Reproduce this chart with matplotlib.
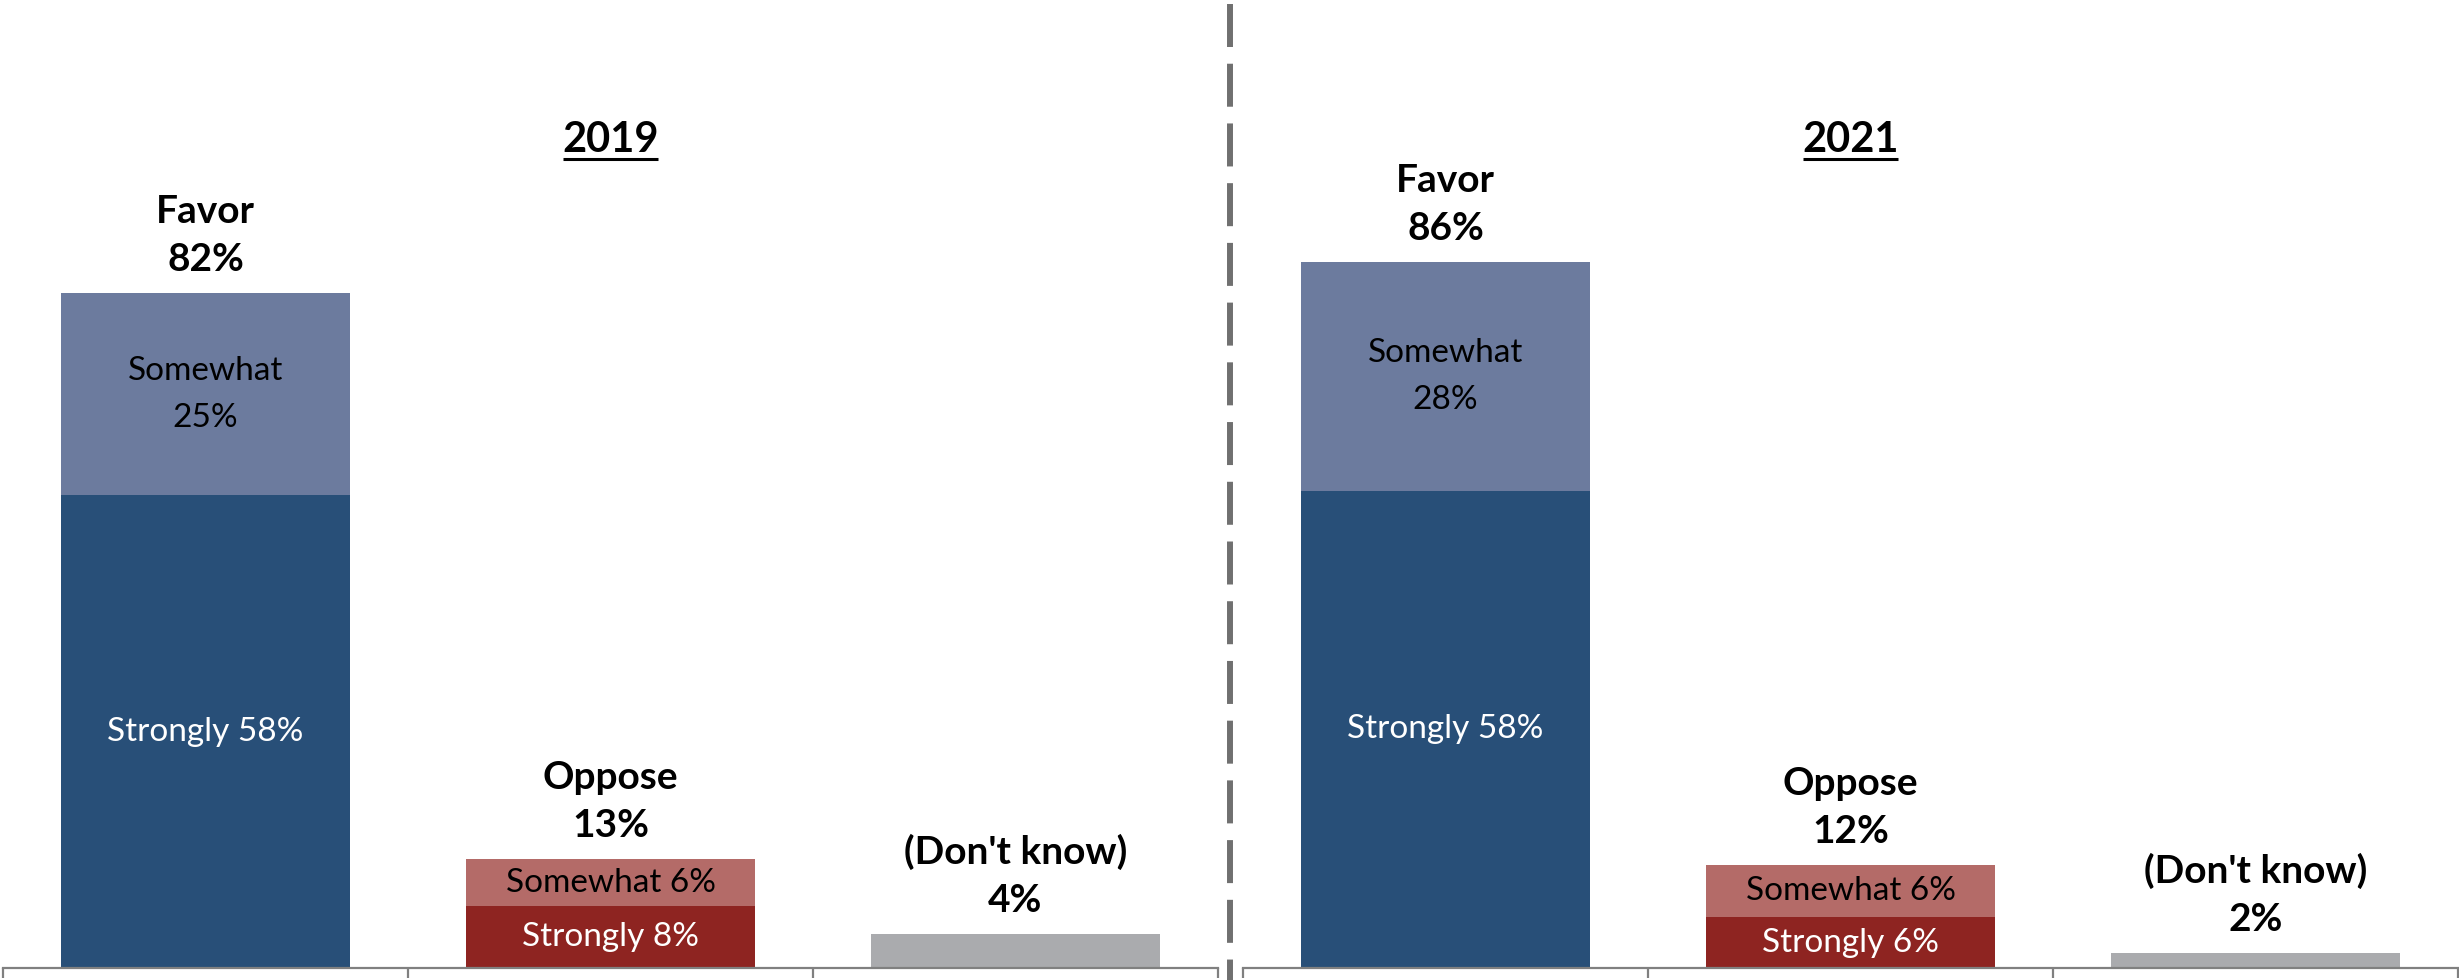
import matplotlib
matplotlib.use("Agg")
import matplotlib.pyplot as plt
from matplotlib.lines import Line2D

plt.rcParams['font.family'] = ['Lato', 'DejaVu Sans']

# ------------------------
# Data
# ------------------------
years = ['2019', '2021']
categories = ['Favor', 'Oppose', "(Don't know)"]

fav_strong = [57.6, 58.2]
fav_some = [24.7, 27.9]
opp_strong = [7.5, 6.2]
opp_some = [5.8, 6.3]
dont_know = [4.1, 1.8]

fav_strong_lbl = ['58%', '58%']
fav_some_lbl = ['25%', '28%']
fav_total_lbl = ['82%', '86%']
opp_strong_lbl = ['8%', '6%']
opp_some_lbl = ['6%', '6%']
opp_total_lbl = ['13%', '12%']
dk_lbl = ['4%', '2%']

# ------------------------
# Styles
# ------------------------
C_FAV_STRONG = '#284F78'
C_FAV_SOME = '#6C7B9E'
C_OPP_STRONG = '#8E2421'
C_OPP_SOME = '#B46B68'
C_DK = '#AAABAE'
C_AXIS = '#808080'

W, H, DPI = 2459, 980, 100
YMAX = 118
BAR_W = 0.713

fig = plt.figure(figsize=(W / DPI, H / DPI), dpi=DPI)

panels = [(3, 1215), (1243, 1215)]
axes = []
for (left, width) in panels:
    ax = fig.add_axes([left / W, 12 / H, width / W, 968 / H])
    axes.append(ax)


def top_label(ax, x, top, line1, line2):
    ax.annotate(line2, (x, top), xytext=(0, 22), textcoords='offset pixels',
                ha='center', va='baseline', fontsize=28, fontweight='bold')
    ax.annotate(line1, (x, top), xytext=(0, 70), textcoords='offset pixels',
                ha='center', va='baseline', fontsize=28, fontweight='bold')


titles = []
for i, ax in enumerate(axes):
    x = [0, 1, 2]
    # favor
    ax.bar(x[0], fav_strong[i], width=BAR_W, color=C_FAV_STRONG)
    ax.bar(x[0], fav_some[i], bottom=fav_strong[i], width=BAR_W, color=C_FAV_SOME)
    # oppose
    ax.bar(x[1], opp_strong[i], width=BAR_W, color=C_OPP_STRONG)
    ax.bar(x[1], opp_some[i], bottom=opp_strong[i], width=BAR_W, color=C_OPP_SOME)
    # don't know
    ax.bar(x[2], dont_know[i], width=BAR_W, color=C_DK)

    # inner labels
    ax.text(x[0], fav_strong[i] / 2, 'Strongly ' + fav_strong_lbl[i],
            ha='center', va='center', color='white', fontsize=24)
    ax.text(x[0], fav_strong[i] + fav_some[i] / 2, 'Somewhat\n' + fav_some_lbl[i],
            ha='center', va='center', color='black', fontsize=24, linespacing=1.7)
    ax.text(x[1], opp_strong[i] / 2, 'Strongly ' + opp_strong_lbl[i],
            ha='center', va='center', color='white', fontsize=24)
    ax.text(x[1], opp_strong[i] + opp_some[i] / 2, 'Somewhat ' + opp_some_lbl[i],
            ha='center', va='center', color='black', fontsize=24)

    # totals above bars
    top_label(ax, x[0], fav_strong[i] + fav_some[i], categories[0], fav_total_lbl[i])
    top_label(ax, x[1], opp_strong[i] + opp_some[i], categories[1], opp_total_lbl[i])
    top_label(ax, x[2], dont_know[i], categories[2], dk_lbl[i])

    # year title
    t = ax.text(1, 99.5, years[i], ha='center', va='baseline',
                fontsize=30, fontweight='bold')
    titles.append(t)

    ax.set_xlim(-0.5, 2.5)
    ax.set_ylim(0, YMAX)
    ax.set_yticks([])
    ax.set_xticks([-0.5, 0.5, 1.5, 2.5])
    ax.set_xticklabels([])
    ax.tick_params(axis='x', direction='out', length=7.5, width=1.6, color=C_AXIS)
    for side in ['top', 'left', 'right']:
        ax.spines[side].set_visible(False)
    ax.spines['bottom'].set_color(C_AXIS)
    ax.spines['bottom'].set_linewidth(1.6)
    ax.patch.set_alpha(0)

# underline the year titles
fig.canvas.draw()
renderer = fig.canvas.get_renderer()
for ax, t in zip(axes, titles):
    bb = t.get_window_extent(renderer=renderer)
    inv = ax.transData.inverted()
    x0 = inv.transform((bb.x0 + 1, 0))[0]
    x1 = inv.transform((bb.x1 - 1, 0))[0]
    ax.plot([x0, x1], [98.65, 98.65], color='black', lw=2.2,
            solid_capstyle='butt', clip_on=False)

# dashed divider between the two years
fig.add_artist(Line2D([1230 / W, 1230 / W], [1 - 4 / H, 0],
                      transform=fig.transFigure, color='#707070', lw=4.3,
                      linestyle=(0, (7.2, 2.8)), dash_capstyle='butt'))

fig.savefig('out.png', dpi=DPI)
